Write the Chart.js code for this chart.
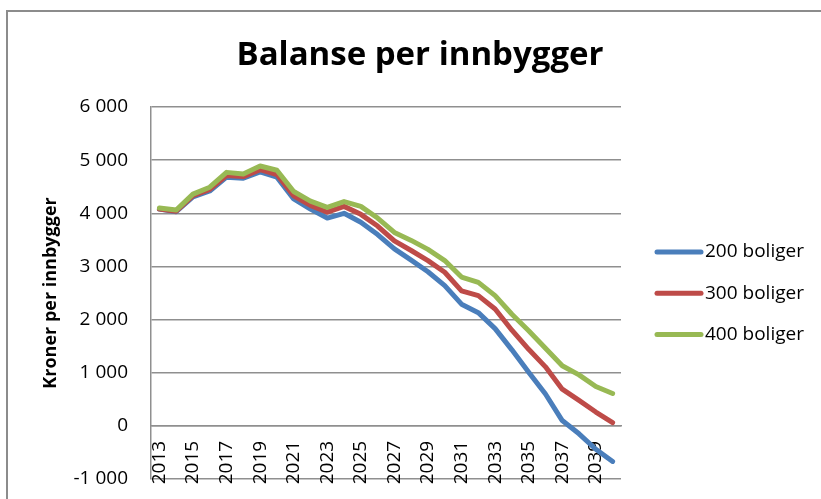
<!DOCTYPE html>
<html>
<head>
<meta charset="utf-8">
<script src="https://cdn.jsdelivr.net/npm/chart.js@4"></script>
<style>
  html, body { margin: 0; padding: 0; background: #fff; overflow: hidden; }
  #wrap { position: relative; width: 821px; height: 499px; }
</style>
</head>
<body>
<div id="wrap"><canvas id="c"></canvas></div>
<script>
const chartTitle = 'Balanse per innbygger';
const yAxisTitle = 'Kroner per innbygger';
const years = ['2013','2014','2015','2016','2017','2018','2019','2020','2021','2022','2023','2024','2025','2026','2027','2028','2029','2030','2031','2032','2033','2034','2035','2036','2037','2038','2039','2040'];
const seriesNames = ['200 boliger', '300 boliger', '400 boliger'];
const boliger200 = [4080,4030,4310,4420,4680,4660,4780,4680,4270,4080,3910,4000,3830,3600,3330,3120,2900,2640,2290,2130,1830,1430,1010,600,100,-150,-440,-670];
const boliger300 = [4080,4040,4330,4450,4710,4690,4820,4730,4330,4150,4020,4130,3980,3760,3480,3300,3110,2890,2540,2450,2200,1800,1440,1110,690,480,260,60];
const boliger400 = [4100,4060,4360,4490,4770,4740,4890,4810,4410,4230,4110,4220,4130,3910,3640,3490,3320,3110,2800,2700,2450,2100,1790,1460,1130,960,740,610];
const yTicks = [-1000, 0, 1000, 2000, 3000, 4000, 5000, 6000];

const colors = ['#4A7EBB', '#BE4B48', '#98B954'];
const gridColor = '#8f8f8f';
const FONT = '"Open Sans", "Liberation Sans", sans-serif';

function fmt(v) {
  const s = Math.abs(v).toString().replace(/\B(?=(\d{3})+(?!\d))/g, ' ');
  return (v < 0 ? '-' : '') + s;
}

const decor = {
  id: 'decor',
  beforeDraw(chart) {
    const ctx = chart.ctx;
    ctx.save();
    ctx.strokeStyle = '#8c8c8c';
    ctx.lineWidth = 2;
    ctx.beginPath();
    ctx.moveTo(7, 1200);
    ctx.lineTo(7, 11);
    ctx.lineTo(1500, 11);
    ctx.stroke();
    ctx.restore();
  },
  afterDraw(chart) {
    const ctx = chart.ctx;
    ctx.save();
    // title
    ctx.fillStyle = '#000';
    ctx.font = 'bold 33px ' + FONT;
    ctx.textAlign = 'center';
    ctx.textBaseline = 'alphabetic';
    ctx.fillText(chartTitle, 420, 64.5);
    // legend
    ctx.font = '19px ' + FONT;
    ctx.textAlign = 'left';
    ctx.textBaseline = 'middle';
    chart.data.datasets.forEach((ds, i) => {
      const y = 252 + i * 41.2;
      ctx.strokeStyle = ds.borderColor;
      ctx.lineWidth = 5;
      ctx.lineCap = 'round';
      ctx.beginPath();
      ctx.moveTo(657, y);
      ctx.lineTo(701, y);
      ctx.stroke();
      ctx.fillStyle = '#000';
      ctx.fillText(ds.label, 705, y);
    });
    ctx.restore();
  }
};

const seriesData = [boliger200, boliger300, boliger400];

new Chart(document.getElementById('c'), {
  type: 'line',
  data: {
    labels: years,
    datasets: seriesNames.map((name, i) => ({
      label: name,
      data: seriesData[i],
      borderColor: colors[i],
      backgroundColor: colors[i],
      borderWidth: 5,
      pointRadius: 0,
      pointHoverRadius: 0,
      tension: 0,
      borderJoinStyle: 'round',
      borderCapStyle: 'round',
      fill: false,
      order: 3 - i
    }))
  },
  options: {
    responsive: true,
    maintainAspectRatio: false,
    animation: false,
    events: [],
    layout: { padding: { left: 0, right: 200, top: 107, bottom: 20 } },
    plugins: {
      legend: { display: false },
      title: { display: false },
      tooltip: { enabled: false }
    },
    scales: {
      x: {
        type: 'category',
        offset: true,
        position: { y: 0 },
        afterFit: (s) => { s.paddingTop = 0; s.paddingBottom = 0; s.paddingLeft = 0; s.paddingRight = 0; },
        grid: { display: false, drawTicks: false, offset: true },
        border: { display: true, color: gridColor, width: 1.5 },
        ticks: {
          autoSkip: false,
          minRotation: 90,
          maxRotation: 90,
          padding: 15,
          color: '#000',
          font: { family: FONT, size: 19 },
          callback: function (val, idx) { return idx % 2 === 0 ? this.getLabelForValue(val) : ''; }
        }
      },
      y: {
        min: -1000,
        max: 6000,
        afterBuildTicks: (scale) => { scale.ticks = yTicks.map(v => ({ value: v })); },
        afterFit: (scale) => { scale.width = 151; scale.paddingTop = 0; scale.paddingBottom = 0; },
        grid: { color: gridColor, lineWidth: 1.5, drawTicks: false },
        border: { display: true, color: gridColor, width: 1.5 },
        ticks: {
          padding: 23,
          color: '#000',
          font: { family: FONT, size: 19 },
          callback: (v) => fmt(v)
        },
        title: {
          display: true,
          text: yAxisTitle,
          color: '#000',
          font: { family: FONT, size: 18, weight: 'bold' },
          padding: { top: 40, bottom: 0 }
        }
      }
    }
  },
  plugins: [decor]
});
</script>
</body>
</html>
